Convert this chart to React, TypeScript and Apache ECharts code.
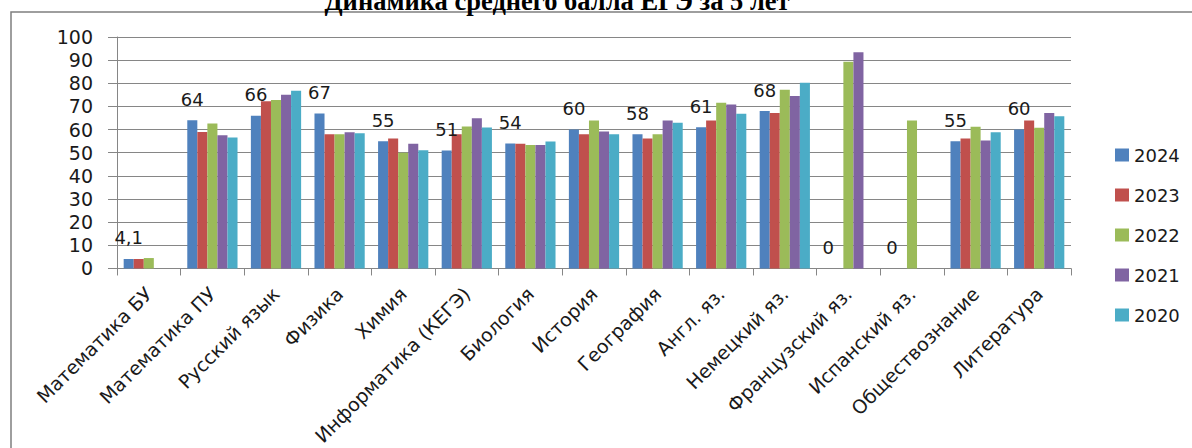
import React, { useEffect, useRef } from "react";
import * as echarts from "echarts";

const titleText = "Динамика среднего балла ЕГЭ за 5 лет";

const categories = [
  "Математика БУ",
  "Математика ПУ",
  "Русский язык",
  "Физика",
  "Химия",
  "Информатика (КЕГЭ)",
  "Биология",
  "История",
  "География",
  "Англ. яз.",
  "Немецкий яз.",
  "Французский яз.",
  "Испанский яз.",
  "Обществознание",
  "Литература",
];

const seriesNames = ["2024", "2023", "2022", "2021", "2020"];

const values2024 = [4.1, 64, 66, 67, 55, 51, 54, 60, 58, 61, 68, 0, 0, 55, 60];
const values2023 = [4.1, 59, 72.2, 58, 56.2, 58, 53.9, 58, 56.2, 63.9, 67.2, null, null, 56.2, 63.9];
const values2022 = [4.5, 62.6, 72.8, 58, 50, 61.3, 53.3, 63.9, 58, 71.6, 77.2, 89.3, 63.9, 61.2, 60.8];
const values2021 = [null, 57.5, 75.1, 58.9, 53.9, 64.9, 53.3, 59.2, 63.9, 70.8, 74.5, 93.4, null, 55.3, 67.2];
const values2020 = [null, 56.6, 76.8, 58.4, 51.1, 60.9, 54.9, 58, 63, 66.8, 80.2, null, null, 58.9, 65.8];

const yTicks = { min: 0, max: 100, interval: 10 };

const colors = ["#4F81BD", "#C0504D", "#9BBB59", "#8064A2", "#4BACC6"];

export default function App() {
  const ref = useRef<HTMLDivElement>(null);

  useEffect(() => {
    if (!ref.current) return;
    const chart = echarts.init(ref.current, null, { renderer: "svg" });
    const all = [values2024, values2023, values2022, values2021, values2020];
    const font = "DejaVu Sans";
    const option: any = {
      animation: false,
      color: colors,
      graphic: [
        {
          type: "rect",
          shape: { x: 11, y: 12, width: 1300, height: 600 },
          style: { fill: "none", stroke: "#7f7f7f", lineWidth: 1.5 },
          silent: true,
        },
        {
          type: "text",
          style: {
            text: titleText,
            x: 557,
            y: 14,
            align: "center",
            verticalAlign: "bottom",
            textAlign: "center",
            textVerticalAlign: "bottom",
            font: "bold 26.5px 'Liberation Serif'",
            fill: "#000",
          },
        },
      ],
      legend: {
        orient: "vertical",
        left: 1110,
        top: 141,
        itemWidth: 14,
        itemHeight: 13,
        itemGap: 22,
        icon: "rect",
        textStyle: { fontFamily: font, fontSize: 18, color: "#1a1a1a" },
        itemStyle: { borderWidth: 0 },
        data: seriesNames,
      },
      grid: { left: 117, right: 121, top: 37, bottom: 178, containLabel: false },
      xAxis: {
        type: "category",
        data: categories,
        axisLine: { lineStyle: { color: "#868686", width: 1 } },
        axisTick: { show: true, length: 7, lineStyle: { color: "#868686" } },
        axisLabel: {
          interval: 0,
          rotate: 45,
          margin: 22,
          padding: [13, 0, 0, 0],
          fontFamily: font,
          fontSize: 19,
          color: "#1a1a1a",
        },
        splitLine: { show: false },
      },
      yAxis: {
        type: "value",
        min: yTicks.min,
        max: yTicks.max,
        interval: yTicks.interval,
        axisLine: { show: true, lineStyle: { color: "#868686", width: 1 } },
        axisTick: { show: true, length: 9, lineStyle: { color: "#868686" } },
        axisLabel: { margin: 24, fontFamily: font, fontSize: 19, color: "#1a1a1a" },
        splitLine: { lineStyle: { color: "#868686", width: 1 } },
      },
      series: seriesNames.map((name, i) => ({
        name,
        type: "bar",
        data: all[i],
        barGap: "0%",
        barCategoryGap: "21%",
        label:
          i === 0
            ? {
                show: true,
                position: "top",
                distance: 12,
                fontFamily: font,
                fontSize: 18,
                color: "#1a1a1a",
                formatter: (p: any) => String(p.value).replace(".", ","),
              }
            : { show: false },
      })),
    };
    chart.setOption(option);
    return () => chart.dispose();
  }, []);

  return (
    <div
      ref={ref}
      style={{ position: "absolute", left: 0, top: 0, width: 1192, height: 448, background: "#fff" }}
    />
  );
}
